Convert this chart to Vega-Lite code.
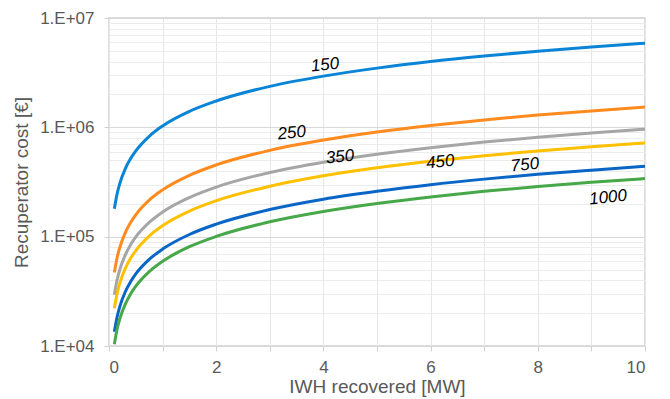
{
  "$schema": "https://vega.github.io/schema/vega-lite/v6.json",
  "autosize": "none",
  "width": 536,
  "height": 328,
  "padding": {"left": 109, "top": 18, "right": 25, "bottom": 53},
  "background": "white",
  "config": {
    "font": "Liberation Sans",
    "view": {"stroke": "#d0d0d0", "strokeWidth": 1.5},
    "axis": {"domain": false, "labelColor": "#595959", "titleColor": "#595959", "labelFont": "Liberation Sans", "titleFont": "Liberation Sans", "labelFontSize": 17, "titleFontSize": 19, "titleFontWeight": "normal", "tickColor": "#d0d0d0", "tickSize": 5}
  },
  "datasets": {
    "curves": [
      {"x": 0.1, "cost": 180000, "series": "150"},
      {"x": 0.15, "cost": 245000, "series": "150"},
      {"x": 0.2, "cost": 305000, "series": "150"},
      {"x": 0.3, "cost": 414000, "series": "150"},
      {"x": 0.4, "cost": 515000, "series": "150"},
      {"x": 0.5, "cost": 609000, "series": "150"},
      {"x": 0.75, "cost": 828000, "series": "150"},
      {"x": 1, "cost": 1030000, "series": "150"},
      {"x": 1.5, "cost": 1400000, "series": "150"},
      {"x": 2, "cost": 1740000, "series": "150"},
      {"x": 3, "cost": 2370000, "series": "150"},
      {"x": 4, "cost": 2940000, "series": "150"},
      {"x": 5, "cost": 3480000, "series": "150"},
      {"x": 6, "cost": 4000000, "series": "150"},
      {"x": 7, "cost": 4490000, "series": "150"},
      {"x": 8, "cost": 4970000, "series": "150"},
      {"x": 9, "cost": 5440000, "series": "150"},
      {"x": 10, "cost": 5890000, "series": "150"},
      {"x": 0.1, "cost": 46900, "series": "250"},
      {"x": 0.15, "cost": 63800, "series": "250"},
      {"x": 0.2, "cost": 79200, "series": "250"},
      {"x": 0.3, "cost": 107700, "series": "250"},
      {"x": 0.4, "cost": 134000, "series": "250"},
      {"x": 0.5, "cost": 158600, "series": "250"},
      {"x": 0.75, "cost": 215600, "series": "250"},
      {"x": 1, "cost": 268000, "series": "250"},
      {"x": 1.5, "cost": 364000, "series": "250"},
      {"x": 2, "cost": 453000, "series": "250"},
      {"x": 3, "cost": 616000, "series": "250"},
      {"x": 4, "cost": 765000, "series": "250"},
      {"x": 5, "cost": 906000, "series": "250"},
      {"x": 6, "cost": 1040000, "series": "250"},
      {"x": 7, "cost": 1169000, "series": "250"},
      {"x": 8, "cost": 1294000, "series": "250"},
      {"x": 9, "cost": 1414000, "series": "250"},
      {"x": 10, "cost": 1532000, "series": "250"},
      {"x": 0.1, "cost": 29400, "series": "350"},
      {"x": 0.15, "cost": 40000, "series": "350"},
      {"x": 0.2, "cost": 49700, "series": "350"},
      {"x": 0.3, "cost": 67500, "series": "350"},
      {"x": 0.4, "cost": 84000, "series": "350"},
      {"x": 0.5, "cost": 99400, "series": "350"},
      {"x": 0.75, "cost": 135100, "series": "350"},
      {"x": 1, "cost": 168000, "series": "350"},
      {"x": 1.5, "cost": 228000, "series": "350"},
      {"x": 2, "cost": 284000, "series": "350"},
      {"x": 3, "cost": 386000, "series": "350"},
      {"x": 4, "cost": 480000, "series": "350"},
      {"x": 5, "cost": 568000, "series": "350"},
      {"x": 6, "cost": 652000, "series": "350"},
      {"x": 7, "cost": 733000, "series": "350"},
      {"x": 8, "cost": 811000, "series": "350"},
      {"x": 9, "cost": 887000, "series": "350"},
      {"x": 10, "cost": 960000, "series": "350"},
      {"x": 0.1, "cost": 22100, "series": "450"},
      {"x": 0.15, "cost": 30000, "series": "450"},
      {"x": 0.2, "cost": 37300, "series": "450"},
      {"x": 0.3, "cost": 50700, "series": "450"},
      {"x": 0.4, "cost": 63000, "series": "450"},
      {"x": 0.5, "cost": 74600, "series": "450"},
      {"x": 0.75, "cost": 101300, "series": "450"},
      {"x": 1, "cost": 126000, "series": "450"},
      {"x": 1.5, "cost": 171300, "series": "450"},
      {"x": 2, "cost": 213000, "series": "450"},
      {"x": 3, "cost": 289000, "series": "450"},
      {"x": 4, "cost": 360000, "series": "450"},
      {"x": 5, "cost": 426000, "series": "450"},
      {"x": 6, "cost": 489000, "series": "450"},
      {"x": 7, "cost": 550000, "series": "450"},
      {"x": 8, "cost": 608000, "series": "450"},
      {"x": 9, "cost": 665000, "series": "450"},
      {"x": 10, "cost": 720000, "series": "450"},
      {"x": 0.1, "cost": 13500, "series": "750"},
      {"x": 0.15, "cost": 18300, "series": "750"},
      {"x": 0.2, "cost": 22800, "series": "750"},
      {"x": 0.3, "cost": 31000, "series": "750"},
      {"x": 0.4, "cost": 38500, "series": "750"},
      {"x": 0.5, "cost": 45600, "series": "750"},
      {"x": 0.75, "cost": 61900, "series": "750"},
      {"x": 1, "cost": 77000, "series": "750"},
      {"x": 1.5, "cost": 104700, "series": "750"},
      {"x": 2, "cost": 130100, "series": "750"},
      {"x": 3, "cost": 176900, "series": "750"},
      {"x": 4, "cost": 220000, "series": "750"},
      {"x": 5, "cost": 260000, "series": "750"},
      {"x": 6, "cost": 299000, "series": "750"},
      {"x": 7, "cost": 336000, "series": "750"},
      {"x": 8, "cost": 372000, "series": "750"},
      {"x": 9, "cost": 406000, "series": "750"},
      {"x": 10, "cost": 440000, "series": "750"},
      {"x": 0.1, "cost": 10400, "series": "1000"},
      {"x": 0.15, "cost": 14200, "series": "1000"},
      {"x": 0.2, "cost": 17600, "series": "1000"},
      {"x": 0.3, "cost": 23900, "series": "1000"},
      {"x": 0.4, "cost": 29700, "series": "1000"},
      {"x": 0.5, "cost": 35200, "series": "1000"},
      {"x": 0.75, "cost": 47900, "series": "1000"},
      {"x": 1, "cost": 59500, "series": "1000"},
      {"x": 1.5, "cost": 80900, "series": "1000"},
      {"x": 2, "cost": 100500, "series": "1000"},
      {"x": 3, "cost": 136700, "series": "1000"},
      {"x": 4, "cost": 170000, "series": "1000"},
      {"x": 5, "cost": 201000, "series": "1000"},
      {"x": 6, "cost": 231000, "series": "1000"},
      {"x": 7, "cost": 260000, "series": "1000"},
      {"x": 8, "cost": 287000, "series": "1000"},
      {"x": 9, "cost": 314000, "series": "1000"},
      {"x": 10, "cost": 340000, "series": "1000"}
    ],
    "labels": [
      {"x": 4.03, "cost": 3720000, "series": "150"},
      {"x": 3.41, "cost": 887000, "series": "250"},
      {"x": 4.31, "cost": 535000, "series": "350"},
      {"x": 6.18, "cost": 481000, "series": "450"},
      {"x": 7.76, "cost": 452000, "series": "750"},
      {"x": 9.31, "cost": 228000, "series": "1000"}
    ]
  },
  "layer": [
    {
      "data": {"name": "curves"},
      "mark": {"type": "line", "strokeWidth": 3, "interpolate": "monotone", "clip": true},
      "encoding": {
        "x": {"field": "x", "type": "quantitative", "title": "IWH recovered [MW]",
          "scale": {"domain": [0, 10], "nice": false},
          "axis": {"values": [0,1,2,3,4,5,6,7,8,9,10], "labelExpr": "datum.value % 2 == 0 ? datum.label : ''", "gridColor": "#e6e6e6", "labelPadding": 8, "titlePadding": 2}},
        "y": {"field": "cost", "type": "quantitative", "title": "Recuperator cost [€]",
          "scale": {"type": "log", "domain": [10000, 10000000], "nice": false},
          "axis": {"values": [10000,20000,30000,40000,50000,60000,70000,80000,90000,100000,200000,300000,400000,500000,600000,700000,800000,900000,1000000,2000000,3000000,4000000,5000000,6000000,7000000,8000000,9000000,10000000],
            "labelExpr": "abs(log(datum.value)/LN10 - round(log(datum.value)/LN10)) < 0.001 ? '1.E+0' + round(log(datum.value)/LN10) : ''",
            "gridColor": {"condition": {"test": "abs(log(datum.value)/LN10 - round(log(datum.value)/LN10)) < 0.001", "value": "#d9d9d9"}, "value": "#ececec"},
            "tickColor": {"condition": {"test": "abs(log(datum.value)/LN10 - round(log(datum.value)/LN10)) < 0.001", "value": "#d0d0d0"}, "value": "transparent"},
            "labelPadding": 10, "titlePadding": 8}},
        "color": {"field": "series", "type": "nominal", "legend": null,
          "scale": {"domain": ["150","250","350","450","750","1000"], "range": ["#0A84D6","#FF8A1E","#A6A6A6","#FFC000","#0966C6","#47A84A"]}},
        "detail": {"field": "series"}
      }
    },
    {
      "data": {"name": "labels"},
      "mark": {"type": "text", "fontStyle": "italic", "fontSize": 17, "color": "black", "angle": -6, "font": "Liberation Sans"},
      "encoding": {
        "x": {"field": "x", "type": "quantitative"},
        "y": {"field": "cost", "type": "quantitative"},
        "text": {"field": "series"}
      }
    }
  ]
}
